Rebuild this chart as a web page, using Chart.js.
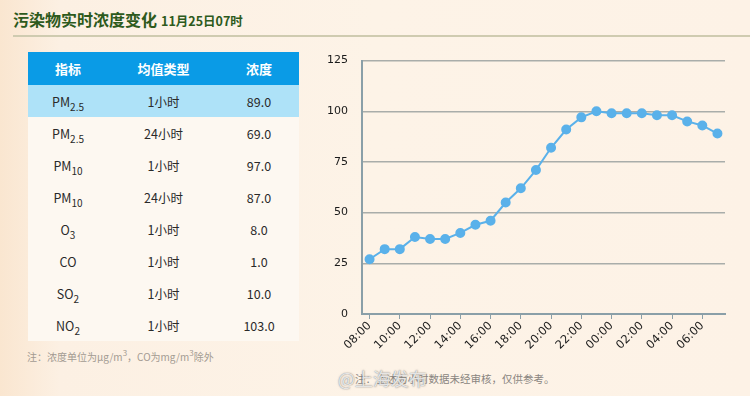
<!DOCTYPE html>
<html><head><meta charset="utf-8">
<script src="https://cdn.jsdelivr.net/npm/chart.js@4"></script>
<style>
html,body{margin:0;padding:0;}
body{width:750px;height:396px;overflow:hidden;position:relative;background:linear-gradient(to right,#fae6d0 0%,#fcf0e3 8%,#fdf3e7 50%,#fdf2e6 100%);font-family:"Noto Sans CJK SC","Noto Sans",sans-serif;}
#title{position:absolute;left:13px;top:7px;font-size:16px;font-weight:bold;color:#2d5a1c;white-space:nowrap;}
#title span{font-size:12.5px;margin-left:4px;}
#rule{position:absolute;left:13px;right:0;top:35px;height:2px;background:#cfcbb0;}
table{position:absolute;left:28px;top:52px;width:271px;border-collapse:collapse;font-size:12.5px;color:#2a2a2a;background:#fdf8f1;}
th{background:#0a9be6;color:#fff;font-weight:bold;height:33px;padding:0;font-size:13px;}
td{height:32px;padding:0;text-align:center;}
tr.hl td{background:#aee2f8;}
sub{font-size:10px;vertical-align:-4px;line-height:0;}
sup{font-size:8px;vertical-align:5px;line-height:0;}
#note{position:absolute;left:27px;top:349px;font-size:10px;color:#a39b92;white-space:nowrap;}
#foot{position:absolute;left:355px;top:371px;font-size:10.5px;color:#8a8580;white-space:nowrap;}
#wm{position:absolute;left:338px;top:365px;font-size:18px;color:rgba(255,255,255,0.8);white-space:nowrap;text-shadow:0 0 1px rgba(90,90,90,0.7),0 0 2px rgba(120,120,120,0.5);}
#wrap{position:absolute;left:310px;top:40px;width:430px;height:320px;}
</style></head>
<body>
<div id="title">污染物实时浓度变化<span>11月25日07时</span></div>
<div id="rule"></div>
<table id="tbl"></table>
<div id="note">注：浓度单位为μg/m<sup>3</sup>，CO为mg/m<sup>3</sup>除外</div>
<div id="foot">注：上述为小时数据未经审核，仅供参考。</div>
<div id="wm">@上海发布</div>
<div id="wrap"><canvas id="c"></canvas></div>
<script>
const hours = ["08:00","09:00","10:00","11:00","12:00","13:00","14:00","15:00","16:00","17:00","18:00","19:00","20:00","21:00","22:00","23:00","00:00","01:00","02:00","03:00","04:00","05:00","06:00","07:00"];
const pm25 = [27,32,32,38,37,37,40,44,46,55,62,71,82,91,97,100,99,99,99,98,98,95,93,89];
const yTicks = [0,25,50,75,100,125];

const tableHeaders = ["指标","均值类型","浓度"];
const indicators = ["PM<sub>2.5</sub>","PM<sub>2.5</sub>","PM<sub>10</sub>","PM<sub>10</sub>","O<sub>3</sub>","CO","SO<sub>2</sub>","NO<sub>2</sub>"];
const avgTypes = ["1小时","24小时","1小时","24小时","1小时","1小时","1小时","1小时"];
const concentrations = ["89.0","69.0","97.0","87.0","8.0","1.0","10.0","103.0"];

const tbl = document.getElementById('tbl');
let html = '<tr>' + tableHeaders.map(h=>'<th>'+h+'</th>').join('') + '</tr>';
indicators.forEach((ind,i)=>{
  html += '<tr'+(i===0?' class="hl"':'')+'><td style="width:80px">'+ind+'</td><td>'+avgTypes[i]+'</td><td style="width:80px">'+concentrations[i]+'</td></tr>';
});
tbl.innerHTML = html;

new Chart(document.getElementById('c'), {
  type:'line',
  data:{labels:hours,datasets:[{data:pm25,borderColor:'#5ab1ea',backgroundColor:'#5ab1ea',borderWidth:2,pointRadius:4,pointHoverRadius:4,tension:0,fill:false}]},
  options:{
    responsive:true,maintainAspectRatio:false,animation:false,
    layout:{padding:{top:10,right:15,left:0,bottom:0}},
    plugins:{legend:{display:false},tooltip:{enabled:false}},
    scales:{
      x:{
        offset:true,
        grid:{offset:false,drawOnChartArea:false,drawTicks:true,tickLength:5,color:'#8a9fa8'},
        border:{color:'#8a9fa8',width:2},
        ticks:{autoSkip:false,minRotation:45,maxRotation:45,padding:0,color:'#1a1a1a',font:{family:'DejaVu Sans',size:11.5},
          callback:function(v,i){return i%2===0?hours[i]:null;}},
        afterFit:function(s){s.height=46;}
      },
      y:{
        min:0,max:125,
        afterBuildTicks:function(s){s.ticks=yTicks.map(v=>({value:v}));},
        grid:{color:'#a9adaa',lineWidth:1.5,drawTicks:false},
        border:{color:'#8a9fa8',width:2},
        ticks:{padding:14,color:'#1a1a1a',font:{family:'DejaVu Sans',size:11}},
        afterFit:function(s){s.width=52;}
      }
    }
  }
});
</script>
</body></html>
